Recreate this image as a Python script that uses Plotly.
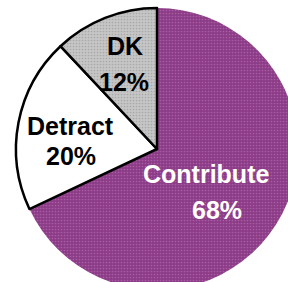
import plotly.graph_objects as go

labels = ["Contribute", "Detract", "DK"]
values = [68, 20, 12]

# style
colors = ["#8c3b87", "#ffffff", "#c6c6c6"]
dot_colors = ["#a95ea3", "#ffffff", "#a8a8a8"]
text_colors = ["white", "black", "black"]
line_widths = [0, 2.5, 2.5]
# label placement (paper coords: name line, percent line)
name_pos = [(0.6755, 0.411), (0.1915, 0.582), (0.3865, 0.867)]
pct_pos = [(0.7145, 0.284), (0.195, 0.475), (0.383, 0.739)]

fig = go.Figure(go.Pie(
    labels=labels,
    values=values,
    sort=False,
    direction="clockwise",
    rotation=0,
    textinfo="none",
    marker=dict(colors=colors,
                line=dict(color="black", width=line_widths),
                pattern=dict(shape=[".", "", "."], fgcolor=dot_colors,
                             bgcolor=colors, size=3, solidity=0.25)),
    hoverinfo="skip",
))

font = dict(family="Liberation Sans, Arial, sans-serif", size=25, weight="bold")
total = sum(values)
for lab, val, col, (nx, ny), (px, py) in zip(labels, values, text_colors, name_pos, pct_pos):
    fig.add_annotation(x=nx, y=ny, xref="paper", yref="paper", text=lab,
                       showarrow=False, xanchor="center", yanchor="middle",
                       font=dict(color=col, **font))
    fig.add_annotation(x=px, y=py, xref="paper", yref="paper",
                       text=f"{round(100 * val / total)}%",
                       showarrow=False, xanchor="center", yanchor="middle",
                       font=dict(color=col, **font))

fig.update_layout(
    width=300, height=292,
    margin=dict(l=16, r=2, t=8, b=2),
    showlegend=False,
    paper_bgcolor="white",
    plot_bgcolor="white",
)

fig.write_html("out.html",
               config={"displayModeBar": False},
               post_script="document.body.style.margin='0';document.body.style.overflow='hidden';document.documentElement.style.overflow='hidden';")
